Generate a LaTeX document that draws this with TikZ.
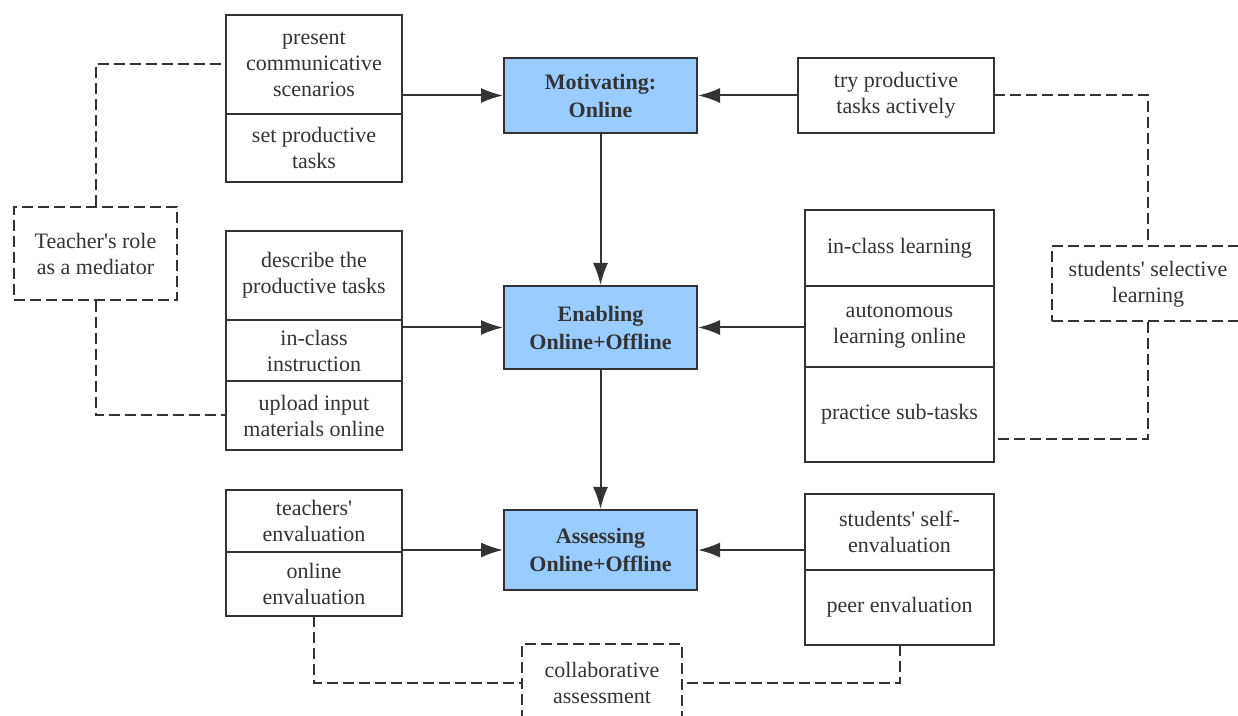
\documentclass[tikz,border=0pt]{standalone}
\usepackage{fontspec}
\setmainfont{Liberation Serif}
\usetikzlibrary{arrows.meta,positioning}
\definecolor{stageblue}{HTML}{99CCFF}
\definecolor{ink}{HTML}{333333}
\tikzstyle{cell}=[rectangle,draw=ink,line width=1pt,fill=white,text=ink,
align=center,inner sep=2pt,outer sep=0pt]
\tikzstyle{stage}=[rectangle,draw=ink,line width=1pt,fill=stageblue,text=ink,
align=center,font=\bfseries\fontsize{11}{14}\selectfont,minimum width=96.5pt]
\tikzstyle{role}=[rectangle,draw=ink,line width=1pt,dash pattern=on 5.5pt off 2.5pt,
text=ink,align=center,inner sep=2pt]
\tikzstyle{link}=[draw=ink,line width=1pt,dash pattern=on 5.5pt off 2.5pt]
\tikzstyle{flow}=[->]

\begin{document}
\begin{tikzpicture}[x=0.5pt,y=-0.5pt,>={Latex[length=11pt,width=7.5pt]},
    every edge/.style={draw=ink,line width=1pt},
    font=\fontsize{11}{13}\selectfont]
            \useasboundingbox (0,0) rectangle (1238,716);
            \clip (0,0) rectangle (1238,716);

            % TEACHER SIDE

            \node[cell,minimum width=88pt,minimum height=49.5pt] (pres) at (314,64.5) {present\\communicative\\scenarios};
            \node[cell,minimum width=88pt,minimum height=34pt,below=0pt of pres] (setp) {set productive\\tasks};

            \node[cell,minimum width=88pt,minimum height=44.5pt] (desc) at (314,275.5) {describe the\\productive tasks};
            \node[cell,minimum width=88pt,minimum height=30.5pt,below=0pt of desc] (inst) {in-class\\instruction};
            \node[cell,minimum width=88pt,minimum height=34.5pt,below=0pt of inst] (upl) {upload input\\materials online};

            \node[cell,minimum width=88pt,minimum height=31pt] (tev) at (314,521) {teachers\textquotesingle\\envaluation};
            \node[cell,minimum width=88pt,minimum height=32pt,below=0pt of tev] (oev) {online\\envaluation};

            % STAGES

            \node[stage,minimum height=37.5pt] (mot) at (600.5,95.5) {Motivating:\\Online};
            \node[stage,minimum height=41.5pt] (enab) at (600.5,327.5) {Enabling\\Online+Offline};
            \node[stage,minimum height=40pt] (ass) at (600.5,550) {Assessing\\Online+Offline};

            % STUDENT SIDE

            \node[cell,minimum width=98pt,minimum height=37.5pt] (try) at (896,95.5) {try productive\\tasks actively};

            \node[cell,minimum width=94.5pt,minimum height=38pt] (icl) at (899.5,248) {in-class learning};
            \node[cell,minimum width=94.5pt,minimum height=40.5pt,below=0pt of icl] (aut) {autonomous\\learning online};
            \node[cell,minimum width=94.5pt,minimum height=47.5pt,below=0pt of aut] (prac) {practice sub-tasks};

            \node[cell,minimum width=94.5pt,minimum height=38pt] (sev) at (899.5,532) {students\textquotesingle{} self-\\envaluation};
            \node[cell,minimum width=94.5pt,minimum height=37.5pt,below=0pt of sev] (peer) {peer envaluation};

            % MEDIATORS

            \node[role,minimum width=81.5pt,minimum height=46.5pt] (teach) at (95.5,253.5) {Teacher\textquotesingle s role\\as a mediator};
            \node[role,minimum width=96pt,minimum height=37.5pt] (sel) at (1148,284) {students\textquotesingle{} selective\\learning};
            \node[role,minimum width=80pt,minimum height=39pt] (coll) at (602,683) {collaborative\\assessment};

            % Flow between stages

            \path[flow] (pres.east |- mot.west) edge node {} (mot.west);
            \path[flow] (desc.east |- enab.west) edge node {} (enab.west);
            \path[flow] (tev.east |- ass.west) edge node {} (ass.west);
            \path[flow] (try.west) edge node {} (mot.east);
            \path[flow] (aut.west |- enab.east) edge node {} (enab.east);
            \path[flow] (sev.west |- ass.east) edge node {} (ass.east);
            \path[flow] (mot) edge node {} (enab);
            \path[flow] (enab) edge node {} (ass);

            % Mediator links

            \coordinate (pe) at ([yshift=-12.5pt]prac.east);
            \draw[link] (teach.north) |- (pres.west);
            \draw[link] (teach.south) |- (upl.west);
            \draw[link] (try.east) -| (sel.north);
            \draw[link] (sel.south) |- (pe);
            \draw[link] (oev.south) |- (coll.west);
            \draw[link] (peer.south) |- (coll.east);

        \end{tikzpicture}
\end{document}
